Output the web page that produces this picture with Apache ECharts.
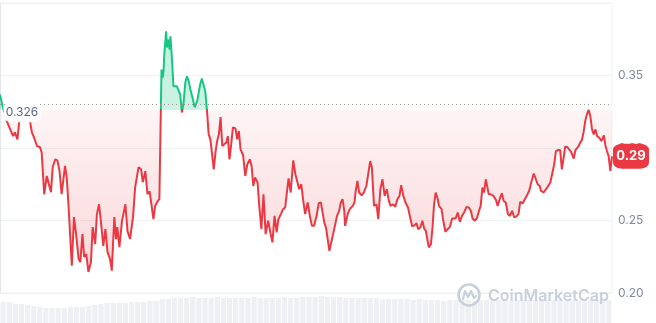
<!DOCTYPE html>
<html><head><meta charset="utf-8">
<script src="https://cdn.jsdelivr.net/npm/echarts@6/dist/echarts.min.js"></script>
<style>html,body{margin:0;padding:0;background:#fff}#c{width:656px;height:323px}</style>
</head><body><div id="c"></div>
<script>
// minutes since start of the 24h window
const minutes = [0,6,12,16,24,31,35,41,45,49,54,63,68,75,80,87,94,98,104,110,120,124,130,135,140,145,153,157,161,169,174,179,185,189,194,198,203,208,214,218,224,228,233,238,243,248,253,259,263,269,273,276,281,287,295,300,306,313,318,322,326,332,336,342,347,352,356,361,365,371,375,378,380,383,385,387,391,393,397,399,401,405,408,412,416,420,424,428,432,436,440,444,448,454,458,464,468,471,475,479,483,487,491,495,499,503,507,511,515,519,523,526,533,536,540,544,548,554,558,562,566,572,577,582,588,592,596,600,606,610,615,620,625,631,636,641,646,651,655,661,666,671,675,679,684,690,695,698,704,709,713,718,724,729,734,739,745,750,755,759,763,767,771,775,778,783,788,793,798,802,806,810,812,818,823,830,834,837,841,845,851,856,862,867,871,875,880,886,890,895,900,905,910,915,919,925,930,935,940,944,949,954,960,966,970,976,980,984,989,994,998,1002,1006,1009,1014,1018,1021,1025,1029,1033,1039,1043,1048,1053,1058,1064,1068,1072,1077,1082,1087,1092,1098,1103,1108,1112,1117,1122,1127,1131,1135,1139,1143,1150,1155,1161,1167,1171,1177,1181,1185,1190,1195,1200,1205,1210,1215,1220,1224,1230,1234,1240,1245,1250,1256,1260,1265,1270,1273,1279,1285,1289,1295,1299,1304,1308,1313,1318,1322,1325,1330,1335,1339,1344,1350,1354,1358,1362,1365,1369,1373,1377,1381,1385,1389,1393,1397,1401,1405,1410,1415,1421,1424,1428,1432,1436,1440];
// price (USD)
const prices = [0.3369,0.3289,0.3232,0.3186,0.3128,0.3082,0.3108,0.3060,0.3177,0.3197,0.3218,0.3245,0.3232,0.3108,0.3073,0.3014,0.3005,0.2970,0.2681,0.2807,0.2695,0.2867,0.2922,0.2915,0.2842,0.2681,0.2876,0.2798,0.2612,0.2188,0.2523,0.2406,0.2234,0.2213,0.2406,0.2248,0.2268,0.2145,0.2213,0.2454,0.2337,0.2544,0.2612,0.2475,0.2324,0.2440,0.2282,0.2234,0.2154,0.2523,0.2372,0.2454,0.2317,0.2496,0.2612,0.2427,0.2372,0.2523,0.2729,0.2716,0.2867,0.2853,0.2764,0.2840,0.2681,0.2702,0.2702,0.2509,0.2599,0.2633,0.2647,0.2660,0.3541,0.3486,0.3541,0.3665,0.3805,0.3693,0.3748,0.3679,0.3770,0.3598,0.3426,0.3417,0.3426,0.3433,0.3369,0.3245,0.3314,0.3452,0.3495,0.3461,0.3404,0.3335,0.3280,0.3323,0.3335,0.3438,0.3479,0.3472,0.3392,0.3259,0.3094,0.3060,0.3048,0.2853,0.2970,0.3048,0.3094,0.3213,0.3014,0.3025,0.3039,0.3082,0.2922,0.3025,0.3142,0.3135,0.3060,0.3117,0.2991,0.2950,0.2807,0.2888,0.2922,0.2876,0.2738,0.2796,0.2762,0.2601,0.2440,0.2681,0.2406,0.2498,0.2418,0.2349,0.2532,0.2418,0.2509,0.2544,0.2578,0.2590,0.2693,0.2791,0.2693,0.2915,0.2819,0.2807,0.2716,0.2750,0.2647,0.2544,0.2624,0.2532,0.2463,0.2463,0.2532,0.2619,0.2624,0.2619,0.2487,0.2452,0.2372,0.2291,0.2280,0.2394,0.2463,0.2532,0.2566,0.2624,0.2647,0.2566,0.2463,0.2544,0.2578,0.2601,0.2624,0.2704,0.2773,0.2693,0.2674,0.2693,0.2738,0.2831,0.2910,0.2865,0.2601,0.2612,0.2509,0.2716,0.2784,0.2670,0.2716,0.2635,0.2601,0.2612,0.2594,0.2647,0.2670,0.2743,0.2670,0.2624,0.2590,0.2509,0.2459,0.2468,0.2482,0.2440,0.2452,0.2498,0.2445,0.2429,0.2360,0.2315,0.2337,0.2463,0.2601,0.2693,0.2659,0.2601,0.2578,0.2498,0.2422,0.2440,0.2452,0.2514,0.2521,0.2514,0.2555,0.2491,0.2532,0.2555,0.2594,0.2590,0.2566,0.2514,0.2498,0.2514,0.2566,0.2601,0.2727,0.2693,0.2784,0.2681,0.2681,0.2670,0.2642,0.2601,0.2659,0.2688,0.2635,0.2624,0.2544,0.2532,0.2566,0.2521,0.2528,0.2544,0.2628,0.2619,0.2612,0.2674,0.2704,0.2762,0.2824,0.2835,0.2750,0.2738,0.2704,0.2693,0.2716,0.2716,0.2762,0.2819,0.2888,0.2979,0.2986,0.2986,0.2853,0.2910,0.3009,0.3007,0.2991,0.2972,0.2927,0.2986,0.2979,0.3014,0.3037,0.3053,0.3106,0.3186,0.3232,0.3264,0.3220,0.3128,0.3094,0.3128,0.3082,0.3071,0.3048,0.3087,0.3025,0.2979,0.2945,0.2842,0.2943];
// price 24h ago (dotted reference line)
const baseline = 0.326;
// y axis ticks
const yMin = 0.20, yMax = 0.40, yStep = 0.05;
// volume (millions), one bar per ~15 min
const volumes = [21,21,19,19,18,17,16,15,15,15,15,16,16,16,17,18,19,20,20,20,20,21,21,21,22,22,24,24,25,25,25,26,25,25,25,26,25,25,25,25,25,26,25,25,25,25,26,25,25,26,26,26,27,26,26,26,25,25,25,25,25,25,24,24,24,24,24,23,24,23,23,23,22,23,23,23,23,22,23,23,23,23,23,22,23,23,23,23,23,23,23,23,22,23,23,23,23,23,23,23];

const GREEN = '#16c784', RED = '#ea3943', WM = '#c9d0dc';
const pMax = Math.max(...prices), pMin = Math.min(...prices);
const t = (pMax - baseline) / (pMax - pMin);
const last = prices[prices.length - 1];
const lineGrad = new echarts.graphic.LinearGradient(0, 0, 0, 1, [
  {offset: 0, color: GREEN}, {offset: t, color: GREEN}, {offset: t, color: RED}, {offset: 1, color: RED}]);
const areaGrad = new echarts.graphic.LinearGradient(0, 0, 0, 1, [
  {offset: 0, color: 'rgba(22,199,132,0.26)'}, {offset: t, color: 'rgba(22,199,132,0.22)'},
  {offset: t, color: 'rgba(234,57,67,0.05)'}, {offset: 1, color: 'rgba(234,57,67,0.20)'}]);

const chart = echarts.init(document.getElementById('c'), null, {renderer: 'canvas'});
chart.setOption({
  animation: false,
  textStyle: {fontFamily: 'Inter'},
  grid: [
    {left: 0, right: 44, top: 3, bottom: 30, show: true, borderColor: '#eff2f5', borderWidth: 1},
    {left: 0, right: 44, top: 293, bottom: 0}
  ],
  xAxis: [
    {type: 'value', min: minutes[0], max: minutes[minutes.length - 1], show: false, gridIndex: 0},
    {type: 'category', data: volumes.map((_, i) => i), show: false, gridIndex: 1}
  ],
  yAxis: [
    {type: 'value', position: 'right', min: yMin, max: yMax, interval: yStep, gridIndex: 0,
     axisLine: {show: true, lineStyle: {color: '#e3e6eb'}}, axisTick: {show: false},
     splitLine: {lineStyle: {color: '#eff2f5'}},
     axisLabel: {showMaxLabel: false, color: '#808a9d', fontSize: 12, margin: 6, fontFamily: 'Inter', formatter: v => v.toFixed(2)}},
    {type: 'value', min: 0, max: 30, show: false, gridIndex: 1}
  ],
  series: [
    {
      type: 'line', xAxisIndex: 0, yAxisIndex: 0,
      data: minutes.map((m, i) => [m, prices[i]]),
      showSymbol: false, symbol: 'none', z: 3,
      lineStyle: {width: 2, color: lineGrad},
      itemStyle: {color: RED},
      areaStyle: {origin: baseline, opacity: 1, color: areaGrad},
      markLine: {silent: true, symbol: 'none', label: {show: false},
        lineStyle: {color: '#9d958c', width: 1, type: [1, 3]},
        data: [{yAxis: baseline}]},
      markPoint: {silent: true, data: [
        {coord: [minutes[0], baseline], symbol: 'roundRect', symbolSize: [37, 20], symbolOffset: [22, 2],
         itemStyle: {color: '#ffffff'},
         label: {show: true, position: 'inside', formatter: baseline.toFixed(3), color: '#58667e', fontSize: 12, fontFamily: 'Inter'}},
        {coord: [minutes[minutes.length - 1], last], symbol: 'roundRect', symbolSize: [36, 25], symbolOffset: [19, 0],
         itemStyle: {color: RED},
         label: {show: true, position: 'inside', formatter: last.toFixed(2), color: '#ffffff', fontSize: 13, fontWeight: 'bold', fontFamily: 'Inter'}}
      ]}
    },
    {type: 'bar', xAxisIndex: 1, yAxisIndex: 1, data: volumes, silent: true, barCategoryGap: '15%', itemStyle: {color: '#eef0f3'}}
  ],
  graphic: [
    {type: 'circle', z: 100, shape: {cx: 469, cy: 295, r: 10.5}, style: {fill: 'none', stroke: WM, lineWidth: 2.6}},
    {type: 'polyline', z: 100, shape: {points: [[463, 299], [465, 291], [468, 297], [471, 291], [474, 298], [476, 296]]},
     style: {fill: 'none', stroke: WM, lineWidth: 2.2, lineJoin: 'round', lineCap: 'round'}},
    {type: 'text', z: 100, x: 488, y: 296, style: {text: 'CoinMarketCap', fill: WM, fontSize: 16, fontWeight: 600, fontFamily: 'Inter', verticalAlign: 'middle'}}
  ]
});
</script></body></html>
